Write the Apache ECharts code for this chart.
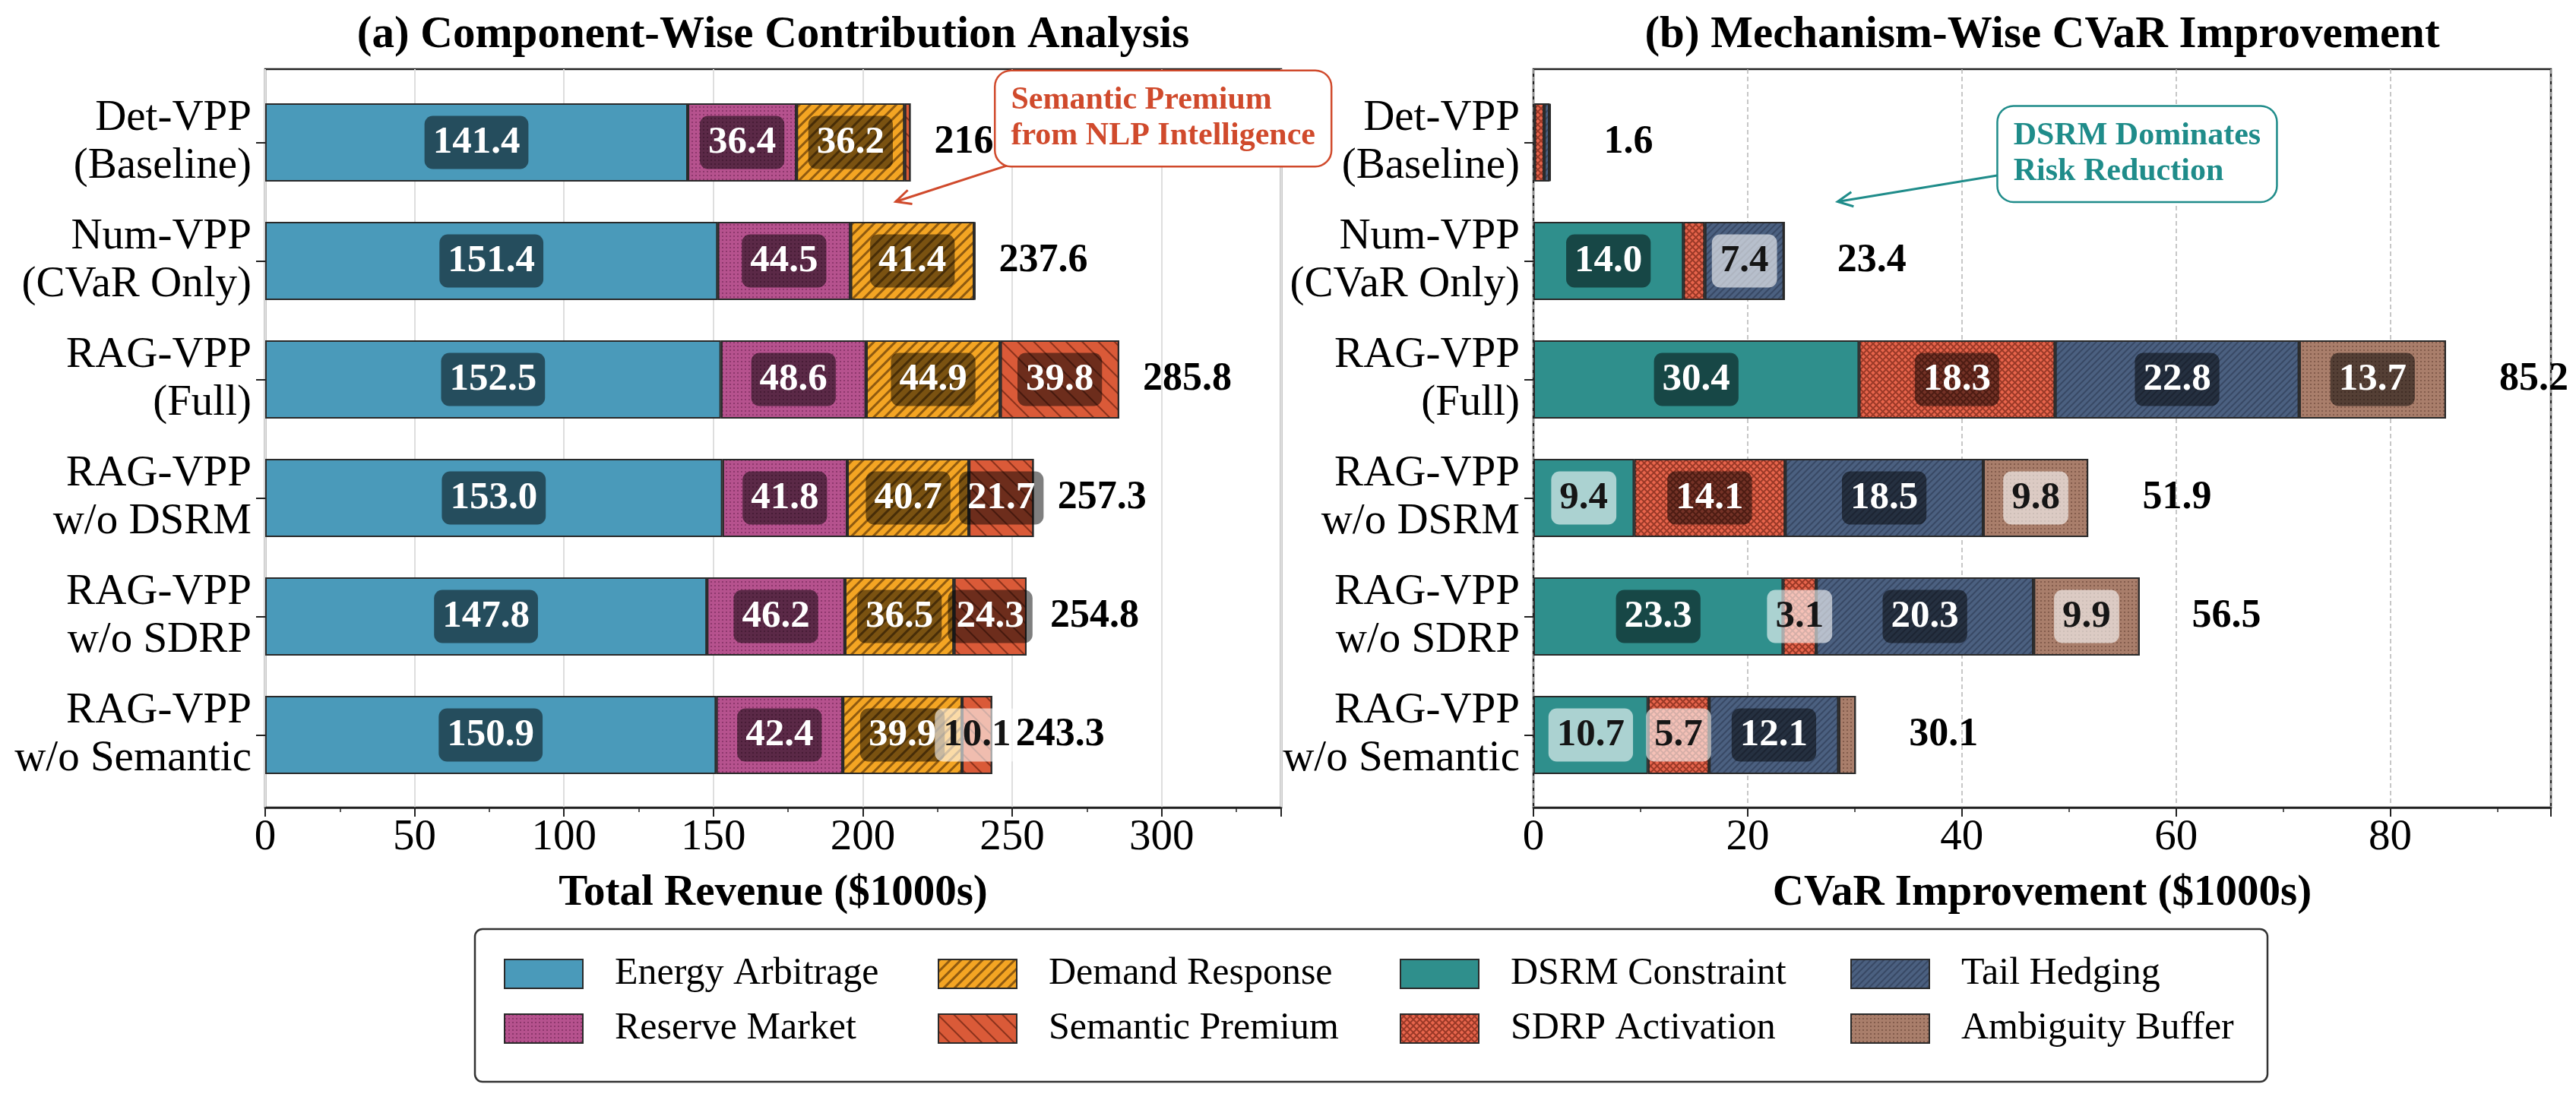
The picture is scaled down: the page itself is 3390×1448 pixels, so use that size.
<!DOCTYPE html>
<html>
<head>
<meta charset="utf-8">
<script src="https://cdn.jsdelivr.net/npm/echarts@6/dist/echarts.min.js"></script>
<style>
  html, body { margin: 0; padding: 0; background: #fff; }
  #chart { width: 3390px; height: 1448px; }
</style>
</head>
<body>
<div id="chart"></div>
<script>
// ---- data ----
const categories = [
  'Det-VPP\n(Baseline)', 'Num-VPP\n(CVaR Only)', 'RAG-VPP\n(Full)',
  'RAG-VPP\nw/o DSRM', 'RAG-VPP\nw/o SDRP', 'RAG-VPP\nw/o Semantic'
];

// (a) revenue components, $1000s
const energyArbitrage = [141.4, 151.4, 152.5, 153.0, 147.8, 150.9];
const reserveMarket   = [36.4, 44.5, 48.6, 41.8, 46.2, 42.4];
const demandResponse  = [36.2, 41.4, 44.9, 40.7, 36.5, 39.9];
const semanticPremium = [2.0, 0.3, 39.8, 21.7, 24.3, 10.1];
const revenueTotals   = [216.0, 237.6, 285.8, 257.3, 254.8, 243.3];

// (b) CVaR improvement by mechanism, $1000s
const dsrmConstraint  = [0.1, 14.0, 30.4, 9.4, 23.3, 10.7];
const sdrpActivation  = [0.9, 2.0, 18.3, 14.1, 3.1, 5.7];
const tailHedging     = [0.5, 7.4, 22.8, 18.5, 20.3, 12.1];
const ambiguityBuffer = [0.1, 0.0, 13.7, 9.8, 9.9, 1.6];
const cvarTotals      = [1.6, 23.4, 85.2, 51.9, 56.5, 30.1];

const revenueAxis = { max: 340, interval: 50 };
const cvarAxis = { max: 95, interval: 20 };

const legendColumns = [
  ['Energy Arbitrage', 'Reserve Market'],
  ['Demand Response', 'Semantic Premium'],
  ['DSRM Constraint', 'SDRP Activation'],
  ['Tail Hedging', 'Ambiguity Buffer']
];

// ---- styling ----
const FONT = "'Liberation Serif', 'Times New Roman', serif";
const INK = '#000';

// pattern rotation is clockwise on screen: negative gives '/', positive gives '\'
function lines(rot, thick, gap, color) {
  return { symbol: 'rect', symbolSize: 1, dashArrayX: [1, 0], dashArrayY: [thick, gap], rotation: rot, color: color };
}
function dots(size, gap, color) {
  return { symbol: 'rect', symbolSize: 1, dashArrayX: [size, gap], dashArrayY: [size, gap], rotation: 0, color: color };
}

const decals = {
  reserve: dots(2, 3, 'rgba(70,10,50,0.35)'),
  demand: lines(-Math.PI / 4, 2.5, 7, 'rgba(60,30,0,0.55)'),
  semantic: lines(Math.PI / 4, 2, 13, 'rgba(60,10,0,0.5)'),
  sdrp: { symbol: 'rect', symbolSize: 1, dashArrayX: [4, 1.6], dashArrayY: [4, 1.6], rotation: Math.PI / 4,
          color: '#E8654C', backgroundColor: 'rgba(90,20,10,0.55)' },
  tail: lines(-Math.PI / 4, 1.5, 4, 'rgba(20,30,50,0.35)'),
  ambiguity: dots(2, 3, 'rgba(60,30,20,0.35)')
};

function segLabel(v) {
  if (v < 3) return { show: false };
  const light = v < 12;
  return {
    show: true,
    color: light ? '#151515' : '#fff',
    backgroundColor: light ? 'rgba(255,255,255,0.6)' : 'rgba(0,0,0,0.5)'
  };
}

function barSeries(name, values, color, decal, axis) {
  return {
    name: name, type: 'bar', stack: 'stack' + axis,
    xAxisIndex: axis, yAxisIndex: axis, barWidth: 103,
    data: values.map(v => ({ value: v, label: segLabel(v) })),
    itemStyle: { color: color, borderColor: '#2a2a2a', borderWidth: 2, decal: decal },
    label: {
      position: 'inside', fontFamily: FONT, fontWeight: 'bold', fontSize: 51, lineHeight: 54,
      padding: [8, 11], borderRadius: 11,
      formatter: p => Number(p.value).toFixed(1)
    },
    emphasis: { disabled: true }
  };
}

function totalSeries(totals, axis, gap) {
  return {
    type: 'scatter', xAxisIndex: axis, yAxisIndex: axis, silent: true, z: 5,
    data: totals.map((t, i) => [t, i]),
    symbolSize: 0.1, itemStyle: { color: '#000', opacity: 1 },
    label: {
      show: true, position: 'right', distance: gap,
      fontFamily: FONT, fontWeight: 'bold', fontSize: 52, color: INK, opacity: 1,
      textBorderWidth: 0,
      formatter: p => p.value[0].toFixed(1)
    },
    emphasis: { disabled: true }
  };
}

function barXAxis(grid, max, title) {
  return {
    gridIndex: grid, type: 'value', min: 0, max: max, position: 'top',
    axisLine: { show: false }, axisTick: { show: false }, axisLabel: { show: false }, splitLine: { show: false },
    name: title, nameLocation: 'middle', nameGap: 33,
    nameTextStyle: { fontFamily: FONT, fontWeight: 'bold', fontSize: 59, color: INK }
  };
}

function frameXAxis(grid, spec, name, split) {
  return {
    gridIndex: grid, type: 'value', min: 0, max: spec.max, interval: spec.interval, position: 'bottom',
    axisLine: { show: true, lineStyle: { color: '#222', width: 2.5 } },
    axisTick: { show: true, length: 12, lineStyle: { color: '#222', width: 2 } },
    minorTick: { show: true, splitNumber: 2, length: 6, lineStyle: { color: '#222', width: 1.5 } },
    axisLabel: { fontFamily: FONT, fontSize: 57, color: INK, margin: 12, showMaxLabel: false },
    splitLine: { show: true, lineStyle: split },
    name: name, nameLocation: 'middle', nameGap: 85,
    nameTextStyle: { fontFamily: FONT, fontWeight: 'bold', fontSize: 57, color: INK }
  };
}

function catYAxis(grid) {
  return {
    gridIndex: grid, type: 'category', data: categories, inverse: true,
    axisLine: { show: false },
    axisTick: { show: true, alignWithLabel: true, length: 12, lineStyle: { color: '#222', width: 2 } },
    axisLabel: { fontFamily: FONT, fontSize: 57, lineHeight: 63, color: INK, margin: 18 },
    splitLine: { show: false }
  };
}

const frameYAxis = grid => ({ gridIndex: grid, type: 'value', show: false, min: 0, max: 1 });

const chart = echarts.init(document.getElementById('chart'));

const option = {
  animation: false,
  backgroundColor: '#fff',
  grid: [
    { left: 349, top: 109.5, width: 1337, height: 936, outerBoundsMode: 'none' },
    { left: 349, top: 91, width: 1337, height: 972, show: true, borderColor: '#222', borderWidth: 2.5, outerBoundsMode: 'none' },
    { left: 2018, top: 109.5, width: 1339, height: 936, outerBoundsMode: 'none' },
    { left: 2018, top: 91, width: 1339, height: 972, show: true, borderColor: '#222', borderWidth: 2.5, outerBoundsMode: 'none' }
  ],
  xAxis: [
    barXAxis(0, revenueAxis.max, '(a) Component-Wise Contribution Analysis'),
    frameXAxis(1, revenueAxis, 'Total Revenue ($1000s)', { color: '#dedede', width: 2 }),
    barXAxis(2, cvarAxis.max, '(b) Mechanism-Wise CVaR Improvement'),
    frameXAxis(3, cvarAxis, 'CVaR Improvement ($1000s)', { color: '#b5b5b5', width: 1.5, type: [6, 4] })
  ],
  yAxis: [catYAxis(0), frameYAxis(1), catYAxis(2), frameYAxis(3)],
  legend: legendColumns.map((names, i) => ({
    data: names, orient: 'vertical', left: [663, 1234, 1842, 2435][i], top: 1257,
    itemWidth: 103, itemHeight: 38, itemGap: 22, icon: 'rect', padding: 0, selectedMode: false,
    textStyle: { fontFamily: FONT, fontSize: 50, lineHeight: 50, color: INK, padding: [0, 0, 0, 37] }
  })),
  series: [
    barSeries('Energy Arbitrage', energyArbitrage, '#4A9ABA', null, 0),
    barSeries('Reserve Market', reserveMarket, '#B6528E', decals.reserve, 0),
    barSeries('Demand Response', demandResponse, '#F4A523', decals.demand, 0),
    barSeries('Semantic Premium', semanticPremium, '#DA5A38', decals.semantic, 0),
    totalSeries(revenueTotals, 0, 31),
    barSeries('DSRM Constraint', dsrmConstraint, '#2F8F8C', null, 2),
    barSeries('SDRP Activation', sdrpActivation, '#E8654C', decals.sdrp, 2),
    barSeries('Tail Hedging', tailHedging, '#4B6080', decals.tail, 2),
    barSeries('Ambiguity Buffer', ambiguityBuffer, '#A97E6B', decals.ambiguity, 2),
    totalSeries(cvarTotals, 2, 70)
  ]
};

chart.setOption(option);

// ---- annotations, placed from data coordinates ----
function toPx(axis, x, t) {
  const c0 = chart.convertToPixel({ xAxisIndex: axis, yAxisIndex: axis }, [x, 0]);
  const c1 = chart.convertToPixel({ xAxisIndex: axis, yAxisIndex: axis }, [x, 1]);
  return [c0[0], c0[1] + t * (c1[1] - c0[1])];
}

function callout(axis, boxAt, tipAt, startOffset, text, color) {
  const box = toPx(axis, boxAt[0], boxAt[1]);
  const tip = toPx(axis, tipAt[0], tipAt[1]);
  const start = [box[0] + startOffset[0], box[1] + startOffset[1]];
  const ang = Math.atan2(start[1] - tip[1], start[0] - tip[0]);
  const head = 22, spread = 0.45;
  const h1 = [tip[0] + head * Math.cos(ang + spread), tip[1] + head * Math.sin(ang + spread)];
  const h2 = [tip[0] + head * Math.cos(ang - spread), tip[1] + head * Math.sin(ang - spread)];
  return [
    { type: 'line', z: 90, shape: { x1: start[0], y1: start[1], x2: tip[0], y2: tip[1] },
      style: { stroke: color, lineWidth: 3 } },
    { type: 'polyline', z: 90, shape: { points: [h1, tip, h2] },
      style: { stroke: color, lineWidth: 3, fill: null } },
    { type: 'text', z: 100, x: box[0], y: box[1],
      style: {
        text: text, fontFamily: FONT, fontWeight: 'bold', fontSize: 42, lineHeight: 47,
        fill: color, backgroundColor: '#fff', borderColor: color, borderWidth: 2.5,
        borderRadius: 20, padding: [15, 20]
      } }
  ];
}

chart.setOption({
  graphic: [
    { type: 'rect', z: 1, shape: { x: 625, y: 1223, width: 2359, height: 201, r: 10 },
      style: { fill: 'none', stroke: '#333', lineWidth: 2.5 } },
    ...callout(0, [244.5, -0.6], [211, 0.5], [15, 124], 'Semantic Premium\nfrom NLP Intelligence', '#D04A2C'),
    ...callout(2, [43.4, -0.3], [28.4, 0.5], [0, 90], 'DSRM Dominates\nRisk Reduction', '#1F8C8A')
  ]
});
</script>
</body>
</html>
